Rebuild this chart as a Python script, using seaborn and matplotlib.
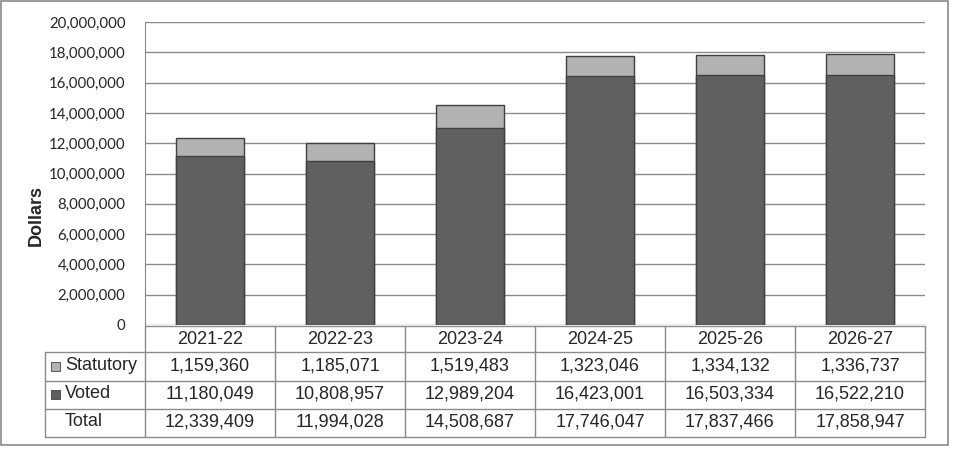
import matplotlib
matplotlib.use("Agg")
import matplotlib.pyplot as plt
import pandas as pd
import seaborn as sns
from matplotlib.lines import Line2D
from matplotlib.patches import Rectangle
from matplotlib.ticker import FuncFormatter, MultipleLocator

years = ["2021-22", "2022-23", "2023-24", "2024-25", "2025-26", "2026-27"]
statutory = [1159360, 1185071, 1519483, 1323046, 1334132, 1336737]
voted = [11180049, 10808957, 12989204, 16423001, 16503334, 16522210]

STAT_COLOR = "#b2b2b2"
VOTED_COLOR = "#606060"
LINE_COLOR = "#8a8a8a"

df = pd.DataFrame({"year": years, "statutory": statutory, "voted": voted})
df["total"] = df["statutory"] + df["voted"]

W, H = 956, 455
sns.set_style("white")
plt.rcParams["font.family"] = ["Liberation Sans", "DejaVu Sans"]

fig = plt.figure(figsize=(W / 100, H / 100), dpi=100)


def fx(x):
    return x / W


def fy(y):
    return 1 - y / H


# plot area in pixel coords: x 145..925, y 22..325
ax = fig.add_axes([fx(145), fy(325), fx(925) - fx(145), fy(22) - fy(325)])

# stacked bars: draw total in light gray, then voted on top in dark gray
sns.barplot(data=df, x="year", y="total", color=STAT_COLOR, width=0.52,
            edgecolor="#404040", linewidth=1, saturation=1, ax=ax)
sns.barplot(data=df, x="year", y="voted", color=VOTED_COLOR, width=0.52,
            edgecolor="#404040", linewidth=1, saturation=1, ax=ax)

ax.set_ylim(0, 20000000)
ax.set_xlim(-0.5, len(years) - 0.5)
ax.yaxis.set_major_locator(MultipleLocator(2000000))
ax.yaxis.set_major_formatter(FuncFormatter(lambda v, p: f"{v:,.0f}"))
ax.grid(axis="y", color=LINE_COLOR, linewidth=1)
ax.set_axisbelow(True)
ax.set_xticks([])
ax.set_xlabel("")
ax.set_ylabel("")
for s in ["top", "right", "bottom"]:
    ax.spines[s].set_visible(False)
ax.spines["left"].set_color(LINE_COLOR)
ax.tick_params(axis="y", length=4, color=LINE_COLOR, direction="in",
               labelsize=10.8, pad=14)
for lbl in ax.get_yticklabels():
    lbl.set_family(["Lato", "DejaVu Sans"])

fig.text(fx(36), fy(216), "Dollars", rotation=90, ha="center", va="center",
         fontsize=13, fontweight="bold")

# data table below the plot
col_edges = [145 + 130 * i for i in range(len(years) + 1)]
row_edges = [326, 352, 381, 409, 437]
left = 45


def hline(x0, x1, y):
    fig.add_artist(Line2D([fx(x0), fx(x1)], [fy(y), fy(y)], color=LINE_COLOR, lw=1))


def vline(x, y0, y1):
    fig.add_artist(Line2D([fx(x), fx(x)], [fy(y0), fy(y1)], color=LINE_COLOR, lw=1))


hline(145, 925, row_edges[0])
for y in row_edges[1:]:
    hline(left, 925, y)
for x in col_edges:
    vline(x, row_edges[0], row_edges[-1])
vline(left, row_edges[1], row_edges[-1])

fs = 13
for i, yr in enumerate(years):
    cx = (col_edges[i] + col_edges[i + 1]) / 2
    fig.text(fx(cx), fy(339), yr, ha="center", va="center", fontsize=fs)
    fig.text(fx(cx), fy(366), f"{df['statutory'][i]:,}", ha="center", va="center", fontsize=fs)
    fig.text(fx(cx), fy(394), f"{df['voted'][i]:,}", ha="center", va="center", fontsize=fs)
    fig.text(fx(cx), fy(422), f"{df['total'][i]:,}", ha="center", va="center", fontsize=fs)

for y, name, color in [(366, "Statutory", STAT_COLOR), (394, "Voted", VOTED_COLOR), (422, "Total", None)]:
    if color:
        fig.add_artist(Rectangle((fx(51), fy(y + 4.5)), fx(9), 9 / H, facecolor=color,
                                 edgecolor="#404040", lw=0.6))
    fig.text(fx(65), fy(y), name, ha="left", va="center", fontsize=fs)

# outer chart border
fig.add_artist(Rectangle((fx(1), fy(445)), fx(947), 444 / H, fill=False,
                         edgecolor=LINE_COLOR, lw=1.2))

fig.savefig("out.png", dpi=100)
